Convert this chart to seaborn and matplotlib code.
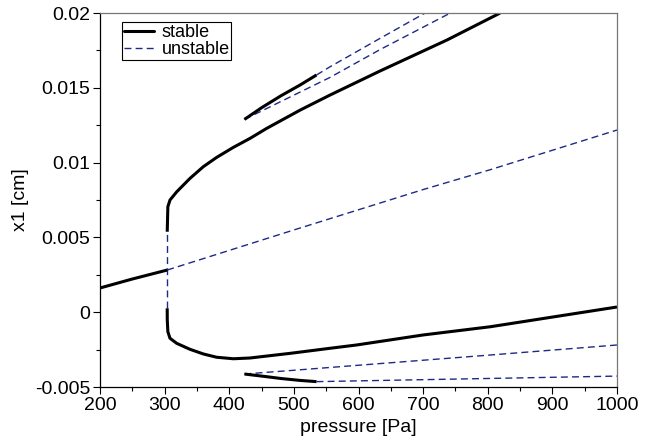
import numpy as np
import pandas as pd
import seaborn as sns
import matplotlib
matplotlib.use("Agg")
import matplotlib.pyplot as plt
from matplotlib.lines import Line2D
from matplotlib.ticker import MultipleLocator

sns.set_theme(style="ticks")
plt.rcParams['font.family'] = ['Liberation Sans', 'DejaVu Sans']
plt.rcParams['text.color'] = 'black'
plt.rcParams['axes.labelcolor'] = 'black'
plt.rcParams['xtick.color'] = 'black'
plt.rcParams['ytick.color'] = 'black'

# ---- data (pressure [Pa], x1 [cm]) ----
# stable branches
stable_left_p = [200, 250, 304]
stable_left_x = [0.00162, 0.00222, 0.00282]

stable_upper_p = [304, 304.1, 305, 308.3, 318.7, 339.3, 359.9, 380.5, 406.3, 432.1, 457.9, 510, 556, 633, 737, 819]
stable_upper_x = [0.00538, 0.00549, 0.00705, 0.0075, 0.00805, 0.00895, 0.00973, 0.01035, 0.01102, 0.01162, 0.01229, 0.01352, 0.01452, 0.01612, 0.0182, 0.0200]

stable_lower_p = [304, 304.1, 305, 308.3, 318.7, 339.3, 359.9, 380.5, 406.3, 432.1, 457.9, 494, 556, 597, 700, 804, 1000]
stable_lower_x = [0.00026, -0.0005, -0.0013, -0.00174, -0.00208, -0.00248, -0.00279, -0.00301, -0.00311, -0.00306, -0.00293, -0.00275, -0.00241, -0.00219, -0.00152, -0.00097, 0.00035]

stable_island_top_p = [423.5, 450, 480, 510, 535]
stable_island_top_x = [0.01289, 0.01367, 0.01447, 0.01520, 0.01586]

stable_island_bot_p = [423.5, 458, 480, 510, 535]
stable_island_bot_x = [-0.00413, -0.00431, -0.00443, -0.00456, -0.00464]

# unstable branches
unstable_diag_p = [304, 500, 700, 804, 1000]
unstable_diag_x = [0.00282, 0.00550, 0.00820, 0.00953, 0.01218]

unstable_vert_p = [304, 304]
unstable_vert_x = [0.00026, 0.00538]

unstable_top1_p = [535, 556, 633, 703]
unstable_top1_x = [0.01586, 0.01641, 0.01830, 0.0200]

unstable_top2_p = [423.5, 556, 633, 742]
unstable_top2_x = [0.01289, 0.01570, 0.01755, 0.0200]

unstable_bot1_p = [423.5, 494, 804, 1000]
unstable_bot1_x = [-0.00413, -0.00390, -0.00286, -0.00219]

unstable_bot2_p = [535, 1000]
unstable_bot2_x = [-0.00464, -0.00427]

stable_segments = [
    (stable_left_p, stable_left_x),
    (stable_upper_p, stable_upper_x),
    (stable_lower_p, stable_lower_x),
    (stable_island_top_p, stable_island_top_x),
    (stable_island_bot_p, stable_island_bot_x),
]
unstable_segments = [
    (unstable_diag_p, unstable_diag_x),
    (unstable_vert_p, unstable_vert_x),
    (unstable_top1_p, unstable_top1_x),
    (unstable_top2_p, unstable_top2_x),
    (unstable_bot1_p, unstable_bot1_x),
    (unstable_bot2_p, unstable_bot2_x),
]

NAVY = "#1c2a85"

fig = plt.figure(figsize=(6.51, 4.41), dpi=100)
ax = fig.add_axes([0.1536, 0.1224, 0.7942, 0.848])

for p, x in unstable_segments:
    df = pd.DataFrame({"p": p, "x": x})
    sns.lineplot(data=df, x="p", y="x", sort=False, estimator=None, ax=ax,
                 color=NAVY, lw=1.0, dashes=False, linestyle=(0, (5, 3)))
for p, x in stable_segments:
    df = pd.DataFrame({"p": p, "x": x})
    sns.lineplot(data=df, x="p", y="x", sort=False, estimator=None, ax=ax,
                 color="black", lw=2.2, solid_capstyle="butt", solid_joinstyle="round")

ax.set_xlim(200, 1000)
ax.set_ylim(-0.005, 0.02)
ax.xaxis.set_major_locator(MultipleLocator(100))
ax.xaxis.set_minor_locator(MultipleLocator(50))
ax.yaxis.set_minor_locator(MultipleLocator(0.0025))
ax.set_yticks([-0.005, 0, 0.005, 0.01, 0.015, 0.02])
ax.set_yticklabels(["-0.005", "0", "0.005", "0.01", "0.015", "0.02"])
ax.tick_params(axis="both", which="major", direction="out", length=5, width=0.8,
               labelsize=14, colors="black", top=False, right=False, pad=2)
ax.tick_params(axis="both", which="minor", direction="out", length=3, width=0.8,
               top=False, right=False)
ax.set_xlabel("pressure [Pa]", fontsize=14, labelpad=4, color="black")
ax.set_ylabel("x1 [cm]", fontsize=14, labelpad=4, color="black")

for s in ["left", "bottom"]:
    ax.spines[s].set_color("black")
    ax.spines[s].set_linewidth(0.9)
for s in ["top", "right"]:
    ax.spines[s].set_visible(True)
    ax.spines[s].set_color("#777777")
    ax.spines[s].set_linewidth(0.9)

handles = [Line2D([], [], color="black", lw=2.2),
           Line2D([], [], color=NAVY, lw=1.0, linestyle=(0, (5, 3)))]
leg = ax.legend(handles, ["stable", "unstable"], loc="upper left",
                bbox_to_anchor=(0.035, 0.985), fontsize=13, frameon=True,
                fancybox=False, framealpha=1, edgecolor="black",
                borderpad=0.1, labelspacing=0.0, handlelength=1.7,
                handletextpad=0.4, borderaxespad=0.2)
leg.get_frame().set_linewidth(0.8)
for t in leg.get_texts():
    t.set_color("black")

fig.savefig("out.png", dpi=100)
